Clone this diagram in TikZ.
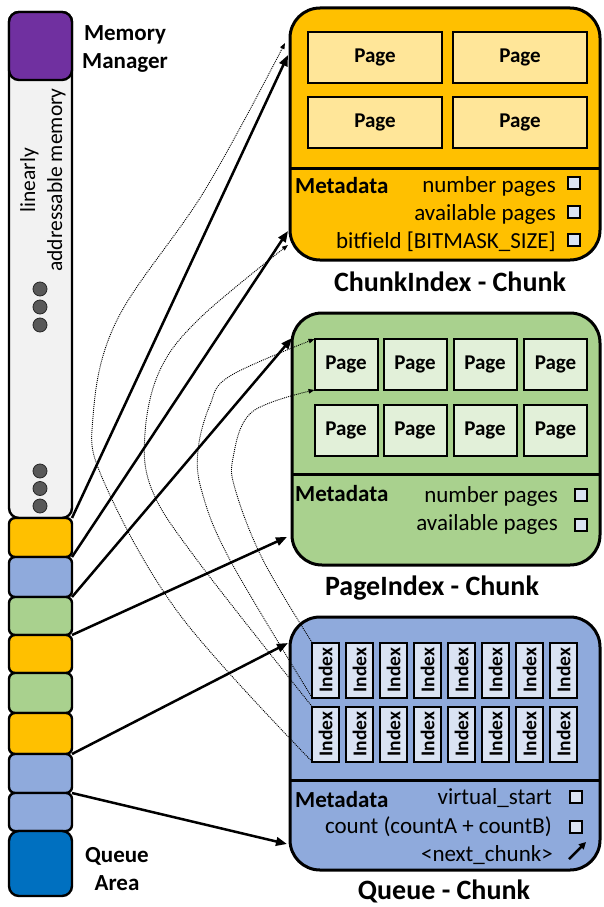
\documentclass[tikz,border=0pt]{standalone}
\usepackage{fontspec}
\setmainfont{Carlito}
\usepackage{graphicx}
\usetikzlibrary{arrows.meta}
\definecolor{corange}{HTML}{FFC000}
\definecolor{cblue}{HTML}{8FAADC}
\definecolor{cgreen}{HTML}{A9D18E}
\definecolor{cpurple}{HTML}{7030A0}
\definecolor{cdblue}{HTML}{0070C0}
\definecolor{cgray}{HTML}{F2F2F2}
\definecolor{cdot}{HTML}{595959}
\definecolor{cpagey}{HTML}{FFE699}
\definecolor{cpageg}{HTML}{E2F0D9}
\definecolor{cidx}{HTML}{DAE3F3}
\tikzset{
 blk/.style={draw, line width=2.4pt, rounded corners=6pt, minimum width=63pt, inner sep=0pt, outer sep=0pt},
 chunkbox/.style={draw, line width=3pt, rounded corners=30pt, inner sep=0pt, outer sep=0pt},
 pagebox/.style={draw, line width=2pt, inner sep=0pt, outer sep=0pt, font=\bfseries\fontsize{21}{24}\selectfont},
 idxbox/.style={draw, line width=2pt, fill=cidx, minimum width=27pt, minimum height=55pt, inner sep=0pt, outer sep=0pt, font=\bfseries\fontsize{19.5}{21}\selectfont},
 chk/.style={draw, line width=2pt, fill=cidx, minimum size=12pt, inner sep=0pt, outer sep=0pt},
 itemtxt/.style={anchor=base east, inner sep=0pt, font=\fontsize{23}{28}\selectfont},
 metatxt/.style={anchor=base west, inner sep=0pt, font=\bfseries\fontsize{23}{28}\selectfont},
 titletxt/.style={anchor=base, inner sep=0pt, font=\bfseries\fontsize{28}{32}\selectfont},
 dotc/.style={circle, draw=black!85, line width=0.8pt, fill=cdot, minimum size=14pt, inner sep=0pt},
 solidarrow/.style={line width=2.5pt, -{Triangle[length=11pt,width=8.5pt]}},
 dotarrow/.style={line width=0.9pt, black, dash pattern=on 1pt off 1pt, -{Triangle[length=6pt,width=4.5pt]}},
}
\begin{document}
\begin{tikzpicture}[x=1pt,y=-1pt]
\useasboundingbox (0,0) rectangle (603,907);
% ---------- left memory bar ----------
\node[blk, rounded corners=10pt, fill=cgray, minimum height=506pt] (mem) at (40.5,265) {};
\node[blk, rounded corners=10pt, fill=cpurple, minimum height=68pt] (b0) at (40.5,46) {};
\node[blk, fill=corange, minimum height=39pt] (b1) at (40.5,537.5) {};
\node[blk, fill=cblue, minimum height=40pt] (b2) at (40.5,577) {};
\node[blk, fill=cgreen, minimum height=38pt] (b3) at (40.5,616) {};
\node[blk, fill=corange, minimum height=38pt] (b4) at (40.5,654) {};
\node[blk, fill=cgreen, minimum height=40pt] (b5) at (40.5,693) {};
\node[blk, fill=corange, minimum height=41pt] (b6) at (40.5,733.5) {};
\node[blk, fill=cblue, minimum height=39pt] (b7) at (40.5,773.5) {};
\node[blk, fill=cblue, minimum height=38pt] (b8) at (40.5,812) {};
\node[blk, rounded corners=10pt, fill=cdblue, minimum height=65pt] (b9) at (40.5,863.5) {};
\node[rotate=90, align=center, inner sep=0pt, font=\fontsize{21.5}{27}\selectfont] (lam) at (43,180) {linearly\\addressable memory};
\node[dotc] (d1) at (40,289) {};
\node[dotc] (d2) at (40,307) {};
\node[dotc] (d3) at (40,325) {};
\node[dotc] (d4) at (40,471) {};
\node[dotc] (d5) at (40,488.5) {};
\node[dotc] (d6) at (40,506) {};
\node[align=center, inner sep=0pt, font=\bfseries\fontsize{23}{28}\selectfont] (mm) at (125,49) {Memory\\Manager};
\node[align=center, inner sep=0pt, font=\bfseries\fontsize{23}{28}\selectfont] (qa) at (117,869) {Queue\\Area};
% ---------- ChunkIndex chunk ----------
\node[chunkbox, fill=corange, minimum width=310pt, minimum height=252pt] (ci) at (445,134) {};
\draw[line width=3pt] (ci.west |- 0,168) -- (ci.east |- 0,168);
\node[pagebox, fill=cpagey, minimum width=134pt, minimum height=51pt] (cp1) at (375,57.5) {Page};
\node[pagebox, fill=cpagey, minimum width=134pt, minimum height=51pt] (cp2) at (520,57.5) {Page};
\node[pagebox, fill=cpagey, minimum width=134pt, minimum height=51pt] (cp3) at (375,122.5) {Page};
\node[pagebox, fill=cpagey, minimum width=134pt, minimum height=51pt] (cp4) at (520,122.5) {Page};
\node[metatxt] (cim) at (295,193) {Metadata};
\node[itemtxt] (ci1) at (556,192) {number pages};
\node[itemtxt] (ci2) at (556,220) {available pages};
\node[itemtxt] (ci3) at (556,248) {bitfield [BITMASK\_SIZE]};
\node[chk] (cc1) at (574,183) {};
\node[chk] (cc2) at (574,212) {};
\node[chk] (cc3) at (574,240) {};
\node[titletxt] (cit) at (450,291) {ChunkIndex - Chunk};
% ---------- PageIndex chunk ----------
\node[chunkbox, fill=cgreen, minimum width=308pt, minimum height=252pt] (pi) at (446,439) {};
\draw[line width=3pt] (pi.west |- 0,474) -- (pi.east |- 0,474);
\foreach \i/\x in {1/346,2/415,3/485,4/555.5}{
  \node[pagebox, fill=cpageg, minimum width=63pt, minimum height=51pt] (pp\i) at (\x,364.5) {Page};
  \node[pagebox, fill=cpageg, minimum width=63pt, minimum height=51pt] (pq\i) at (\x,430) {Page};
}
\node[metatxt] (pim) at (295,501) {Metadata};
\node[itemtxt] (pi1) at (558,502) {number pages};
\node[itemtxt] (pi2) at (558,530) {available pages};
\node[chk] (pc1) at (581,495) {};
\node[chk] (pc2) at (581,525) {};
\node[titletxt] (pit) at (432,595) {PageIndex - Chunk};
% ---------- Queue chunk ----------
\node[chunkbox, fill=cblue, minimum width=310pt, minimum height=253pt] (qc) at (445,743.5) {};
\draw[line width=3pt] (qc.west |- 0,780) -- (qc.east |- 0,780);
\foreach \i in {1,...,8}{
  \pgfmathsetmacro{\xx}{325.5+34*(\i-1)}
  \node[idxbox] (qa\i) at (\xx,670) {\rotatebox{90}{Index}};
  \node[idxbox] (qb\i) at (\xx,734) {\rotatebox{90}{Index}};
}
\node[metatxt] (qm) at (295,807) {Metadata};
\node[itemtxt] (q1t) at (552,804) {virtual\_start};
\node[itemtxt] (q2t) at (552,833) {count (countA + countB)};
\node[itemtxt] (q3t) at (553,861) {<next\_chunk>};
\node[chk] (qc1) at (576,797) {};
\node[chk] (qc2) at (576,827) {};
\coordinate (ia) at (569,859);
\coordinate (ib) at (586,842);
\draw[line width=2.5pt, -{Triangle[length=7pt,width=7pt]}] (ia) -- (ib);
\node[titletxt] (qt) at (444,899) {Queue - Chunk};
% ---------- solid arrows ----------
\coordinate (t1) at (288,55);
\coordinate (t2) at (288,231);
\coordinate (t3) at (292,338);
\coordinate (t4) at (287,537);
\coordinate (t5) at (288,643);
\coordinate (t6) at (287,844);
\draw[solidarrow] (b1.north east) -- (t1);
\draw[solidarrow] (b2.north east) -- (t2);
\draw[solidarrow] (b3.north east) -- (t3);
\draw[solidarrow] (b3.south east) -- (t4);
\draw[solidarrow] (b7.north east) -- (t5);
\draw[solidarrow] (b8.north east) -- (t6);
% ---------- dotted curves ----------
\coordinate (u1) at (285,43);
\coordinate (u2) at (288,245);
\draw[dotarrow] plot[smooth, tension=0.6] coordinates {(qb1.south west) (180,615) (104,482) (93,417) (117,320) (205,190) (u1)};
\draw[dotarrow] plot[smooth, tension=0.6] coordinates {(qb1.north west) (197,560) (152,490) (145,433) (160,370) (200,318) (u2)};
\draw[dotarrow] plot[smooth, tension=0.6] coordinates {(qa1.south west) (230,560) (202,492) (198,450) (210,405) (230,376) (pp1.north west)};
\draw[dotarrow] plot[smooth, tension=0.6] coordinates {(qa1.north west) (263,560) (236,492) (233,458) (252,412) (pp1.south west)};
\end{tikzpicture}
\end{document}
